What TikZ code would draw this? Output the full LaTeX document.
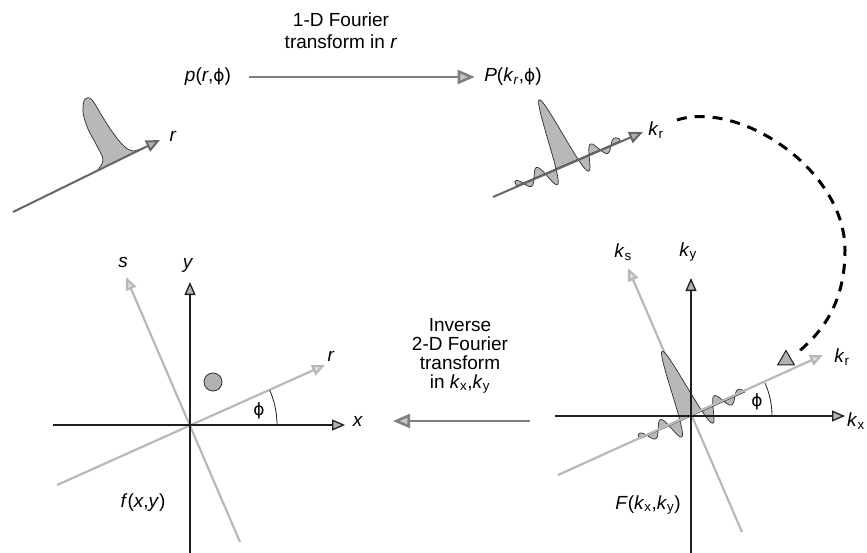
\documentclass[tikz,border=0pt]{standalone}
\usepackage{fontspec}
\setmainfont{Liberation Sans}
\newfontfamily\phifont{DejaVu Sans}
\usetikzlibrary{arrows.meta,shapes.geometric}
\definecolor{axdark}{gray}{0.12}
\definecolor{axlight}{gray}{0.72}
\definecolor{axtop}{gray}{0.40}
\definecolor{shade}{gray}{0.72}
\newcommand{\ksub}[1]{\textit{k}\textsubscript{#1}}
\newcommand{\phisym}{{\phifont\fontsize{17}{20}\selectfont ϕ}}

\begin{document}
\begin{tikzpicture}[x=1pt,y=-1pt,font=\fontsize{19}{22}\selectfont,
  darkaxis/.style={axdark,line width=1.3pt,-{Triangle[length=13pt,width=11pt,fill=gray!60]}},
  lightaxis/.style={axlight,line width=2.2pt,-{Triangle[length=13pt,width=11pt,fill=gray!25]}},
  topaxis/.style={axtop,line width=2pt,-{Triangle[length=14pt,width=12pt,fill=gray!60]}},
  transfer/.style={black!50,line width=2.6pt,-{Triangle[length=17pt,width=14pt,fill=gray!45]}},
  pulse/.style={fill=shade,draw=gray!35!black,line width=0.7pt},
  anglearc/.style={axdark,line width=0.8pt},
  dashedarc/.style={black,line width=3pt,dash pattern=on 10pt off 8pt},
  lbl/.style={inner sep=1pt}]
  \useasboundingbox (0,0) rectangle (867,553);

  % top row: projection and its 1-D transform
  \node[align=center] (ft1) at (341,31) {1-D Fourier\\transform in \textit{r}};
  \node (p) at (208,77) {\textit{p}(\textit{r},\phisym)};
  \node (P) at (513,77) {\textit{P}(\textit{k}\textsubscript{\textit{r}},\phisym)};
  \draw[transfer,shorten <=14pt,shorten >=6pt] (p) -- (P);

  \filldraw[pulse] plot[smooth,tension=0.6] coordinates {(97,171) (103,160) (97,146)
    (88,129) (83,112) (85,99) (92,100) (102,116) (113,133) (124,146) (133,151) (145,147)} -- cycle;
  \draw[topaxis] (13,212) -- (160,140);
  \node[lbl] (rTop) at (173,136) {\textit{r}};

  \begin{scope}[shift={(567,164)},rotate=23.4]
    \filldraw[pulse] plot[domain=-55:58,samples=110] (\x,{-70*sin(15*\x)/(0.2618*\x)})
      -- (58,0) -- (-55,0) -- cycle;
  \end{scope}
  \draw[topaxis] (493,197) -- (643,132);
  \node[lbl] (krTop) at (656,130) {\ksub{r}};

  % dashed rotation into the 2-D plane
  \coordinate (arcStart) at (677,120);
  \coordinate (arcMid) at (845,250);
  \coordinate (arcEnd) at (797,353);
  \draw[dashedarc] (arcStart) .. controls (740,100) and (845,170) .. (arcMid)
    .. controls (845,300) and (825,330) .. (arcEnd);
  \node[regular polygon,regular polygon sides=3,minimum size=19pt,inner sep=0pt,
    fill=gray!60,draw=axdark,line width=1pt] (tri) at (786,360) {};

  % bottom left: object space
  \coordinate (O1) at (190,425);
  \draw[lightaxis] (240,542) -- (126,277);
  \draw[lightaxis] (57,485) -- (325,365);
  \draw[darkaxis] (53,425) -- (345,425);
  \draw[darkaxis] (190,553) -- (190,282);
  \draw[anglearc] (277,425) arc[start angle=0,end angle=-23.6,radius=87];
  \filldraw[fill=gray!60,draw=gray!40!black,line width=0.8pt] (213,382) circle[radius=9];
  \node[lbl] (sLbl) at (123,262) {\textit{s}};
  \node[lbl] (yLbl) at (188,265) {\textit{y}};
  \node[lbl] (rLbl) at (331,356) {\textit{r}};
  \node[lbl] (xLbl) at (358,421) {\textit{x}};
  \node[lbl] (phiL) at (259,411) {\phisym};
  \node[lbl] (fLbl) at (143,503) {\textit{f}(\textit{x},\textit{y})};

  % inverse transform
  \node[align=center,font=\fontsize{19}{19}\selectfont] (ift) at (460,356)
    {Inverse\\2-D Fourier\\transform\\in \ksub{x},\ksub{y}};
  \coordinate (iftStart) at (530,421);
  \coordinate (iftEnd) at (393,421);
  \draw[transfer] (iftStart) -- (iftEnd);

  % bottom right: frequency space
  \coordinate (O2) at (691,416);
  \draw[lightaxis] (742,532) -- (628,268);
  \begin{scope}[shift={(O2)},rotate=24]
    \filldraw[pulse] plot[domain=-56:59,samples=110] (\x,{-71*sin(15*\x)/(0.2618*\x)})
      -- (59,0) -- (-56,0) -- cycle;
  \end{scope}
  \draw[lightaxis] (558,475) -- (823,355);
  \draw[darkaxis] (555,416) -- (845,416);
  \draw[darkaxis] (691,553) -- (691,278);
  \draw[anglearc] (772,416) arc[start angle=0,end angle=-24,radius=81];
  \node[lbl] (ksLbl) at (623,252) {\ksub{s}};
  \node[lbl] (kyLbl) at (688,252) {\ksub{y}};
  \node[lbl] (krLbl) at (842,357) {\ksub{r}};
  \node[inner sep=0pt,anchor=west] (kxLbl) at (847,421) {\ksub{x}};
  \node[lbl] (phiR) at (757,402) {\phisym};
  \node[lbl] (FLbl) at (648,505) {\textit{F}(\ksub{x},\ksub{y})};
\end{tikzpicture}
\end{document}
